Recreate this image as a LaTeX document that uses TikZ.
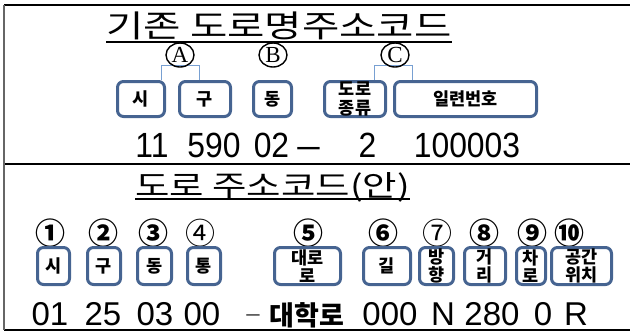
\documentclass[tikz,border=0pt]{standalone}
\usepackage{fontspec}
\usepackage{graphicx}
\usetikzlibrary{shapes.geometric}
\setmainfont{Liberation Sans}
\newfontfamily\kr{Noto Sans CJK KR}
\newfontfamily\serifa{Liberation Serif}
\definecolor{boxblue}{RGB}{70,100,145}
\definecolor{brblue}{RGB}{120,160,210}
\begin{document}
\begin{tikzpicture}[x=1pt,y=-1pt,
  box/.style={draw=boxblue, line width=3pt, rounded corners=6pt, fill=white, inner sep=0pt, align=center, font=\kr\bfseries\fontsize{17.5}{18.5}\selectfont},
  circnum/.style={inner sep=0pt, font=\kr\bfseries\fontsize{30}{30}\selectfont},
  circnuml/.style={inner sep=0pt, font=\kr\fontsize{30}{30}\selectfont},
  circlet/.style={ellipse, draw, line width=1.4pt, minimum width=28pt, minimum height=24pt, inner sep=0pt, font=\serifa\fontsize{23}{23}\selectfont},
  bigdig/.style={anchor=base, inner sep=0pt, font=\fontsize{35}{35}\selectfont},
  smdig/.style={anchor=base, inner sep=0pt, font=\fontsize{33}{33}\selectfont},
  titletext/.style={anchor=base west, inner sep=0pt},
  bracket/.style={draw=brblue, line width=1pt},
  frameline/.style={line width=1.2pt}]
\useasboundingbox (0,0) rectangle (630,333);
% frame
\coordinate (tl) at (4,5); \coordinate (tr) at (630,5);
\coordinate (ml) at (4,164); \coordinate (mr) at (630,164);
\coordinate (bl) at (4,330); \coordinate (br) at (630,330);
\draw[frameline] (tl) -- (tr);
\draw[frameline] (ml) -- (mr);
\draw[frameline] (bl) -- (br);
\draw[frameline, draw=black!60, line width=1.6pt] (tl) -- (bl);
% ---------- top part ----------
\node[titletext, font=\kr\fontsize{31}{31}\selectfont] (t1) at (106,37) {\scalebox{1.31}[1]{기존 도로명주소코드}};
\draw[line width=1.4pt] ([yshift=-5pt]t1.base west) -- ([yshift=-5pt]t1.base east);
% boxes
\node[box, minimum width=47pt, minimum height=35pt] (si1) at (141,99) {시};
\node[box, minimum width=51pt, minimum height=35pt] (gu1) at (205,99) {구};
\node[box, minimum width=38pt, minimum height=35pt] (dong1) at (272.5,99) {동};
\node[box, minimum width=61pt, minimum height=35pt] (road1) at (355,99) {도로\\종류};
\node[box, minimum width=142pt, minimum height=35pt] (serial) at (465.5,99) {일련번호};
% brackets
\coordinate (a1) at (161,65); \coordinate (a2) at (199,65);
\draw[bracket] (si1.north -| a1) -- (a1) -- (a2) -- (gu1.north -| a2);
\coordinate (c1) at (374,65); \coordinate (c2) at (412,65);
\draw[bracket] (road1.north -| c1) -- (c1) -- (c2) -- (serial.north -| c2);
% circled letters
\node[circlet] (cA) at (180,55) {A};
\node[circlet] (cB) at (273,55) {B};
\node[circlet] (cC) at (395,55) {C};
% numbers
\node[bigdig] (d11) at (152,157) {\scalebox{0.91}[1]{11}};
\node[bigdig] (d590) at (214,157) {\scalebox{0.91}[1]{590}};
\node[bigdig] (d02) at (271.5,157) {\scalebox{0.91}[1]{02}};
\node[bigdig] (dash1) at (308.5,157) {\scalebox{1.15}[1]{–}};
\node[bigdig] (d2) at (367.5,157) {\scalebox{0.91}[1]{2}};
\node[bigdig] (d100003) at (467,157) {\scalebox{0.91}[1]{100003}};
% ---------- bottom part ----------
\node[titletext, font=\kr\fontsize{29}{29}\selectfont] (t2) at (135,196) {\scalebox{1.29}[1]{도로 주소코드(안)}};
\draw[line width=1.4pt] ([yshift=-3pt]t2.base west) -- ([yshift=-3pt]t2.base east);
% circled numbers
\node[circnum] (n1) at (50,233) {①};
\node[circnum] (n2) at (103,233) {②};
\node[circnum] (n3) at (153,233) {③};
\node[circnuml] (n4) at (200,233) {④};
\node[circnum] (n5) at (308,233) {⑤};
\node[circnum] (n6) at (383,233) {⑥};
\node[circnuml] (n7) at (437,233) {⑦};
\node[circnum] (n8) at (484,233) {⑧};
\node[circnum] (n9) at (532,233) {⑨};
\node[circnum] (n10) at (569,233) {⑩};
% boxes
\node[box, minimum width=32pt, minimum height=37pt] (si2) at (53.5,266) {시};
\node[box, minimum width=33pt, minimum height=37pt] (gu2) at (104,266) {구};
\node[box, minimum width=34pt, minimum height=37pt] (dong2) at (154.5,266) {동};
\node[box, minimum width=33pt, minimum height=37pt] (tong) at (204,266) {통};
\node[box, minimum width=66pt, minimum height=37pt] (daero) at (307.5,266) {대로\\로};
\node[box, minimum width=47pt, minimum height=37pt] (gil) at (387,266) {길};
\node[box, minimum width=34pt, minimum height=37pt] (bang) at (436.5,266) {방\\향};
\node[box, minimum width=41pt, minimum height=37pt] (geori) at (485,266) {거\\리};
\node[box, minimum width=29pt, minimum height=37pt] (charo) at (531,266) {차\\로};
\node[box, minimum width=60pt, minimum height=37pt] (gong) at (581.5,266) {공간\\위치};
% numbers
\node[smdig] (e01) at (50,325) {01};
\node[smdig] (e25) at (103,325) {25};
\node[smdig] (e03) at (155,325) {03};
\node[smdig] (e00) at (202,325) {00};
\node[smdig, font=\fontsize{24}{24}\selectfont, text=black!70] (dash2) at (253,321) {–};
\node[smdig, font=\kr\bfseries\fontsize{27}{27}\selectfont] (daehak) at (307,325) {대학로};
\node[smdig] (e000) at (390,325) {000};
\node[smdig] (eN) at (443,325) {N};
\node[smdig] (e280) at (492,325) {280};
\node[smdig] (e0) at (543,325) {0};
\node[smdig] (eR) at (576,325) {R};
\end{tikzpicture}
\end{document}
